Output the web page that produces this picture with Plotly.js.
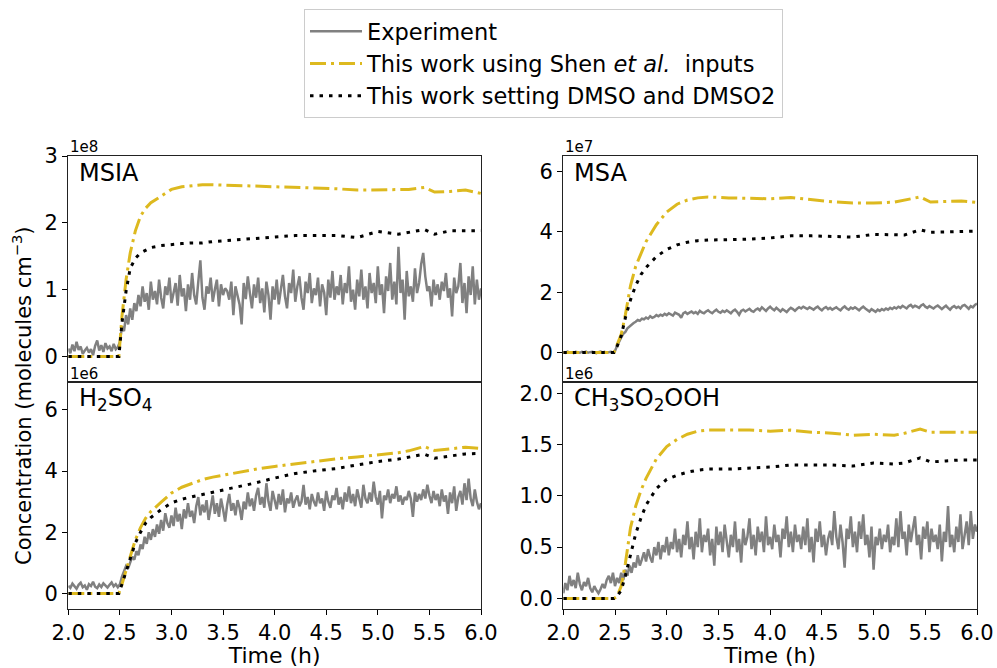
<!DOCTYPE html>
<html>
<head>
<meta charset="utf-8">
<script src="https://cdn.plot.ly/plotly-3.0.1.min.js"></script>
<style>html,body{margin:0;padding:0;background:#fff;}#chart{width:997px;height:668px;}</style>
</head>
<body>
<div id="chart"></div>
<script>
// ---------------- DATA ----------------
// Experiment series sampled every 0.02 h from 2.00 h to 6.00 h (201 values)
const expStart = 2.0;
const expStep = 0.02;

// MSIA (x1e8 molecules cm^-3)
const msiaExp = [
 0.12,0.05,0.18,0.08,0.22,0.10,0.15,0.04,0.09,0.13,0.06,0.11,0.02,0.16,0.24,0.09,0.17,0.07,0.20,0.12,0.15,0.08,0.19,0.11,0.14,
 0.22,0.45,0.38,0.62,0.48,0.72,0.55,0.80,0.68,0.92,0.75,1.05,0.82,0.95,0.70,1.12,0.85,0.98,0.78,1.15,0.88,0.72,1.05,0.92,1.18,
 0.80,0.95,1.10,0.76,1.22,0.90,1.02,0.68,1.08,0.85,
 1.25,0.92,0.78,1.12,1.44,0.88,0.70,1.05,0.94,1.18,
 0.82,1.00,1.15,0.75,1.08,0.92,1.02,0.98,0.85,1.12,
 0.62,1.05,0.90,0.78,0.48,1.10,0.86,1.20,0.95,0.72,
 1.08,0.88,1.18,0.80,1.02,0.66,1.12,0.92,0.55,1.05,
 0.85,1.15,0.78,1.00,1.22,0.90,0.72,1.10,0.95,1.30,
 0.82,1.05,1.20,0.88,0.70,1.12,0.95,1.25,0.80,1.02,
 0.92,1.18,0.75,1.08,0.96,0.62,1.15,0.88,1.28,0.85,
 1.05,0.92,1.22,0.78,1.10,0.95,1.35,0.82,1.00,0.70,
 1.15,0.90,1.30,0.85,1.05,0.72,1.25,0.95,1.10,0.80,
 1.35,0.92,1.08,0.65,1.20,0.98,1.40,0.85,1.12,0.78,
 1.64,0.95,1.15,0.55,1.28,0.90,1.05,0.82,1.32,0.95,
 1.10,1.38,1.55,1.20,0.98,1.05,0.75,1.15,0.92,1.08,
 0.85,1.12,0.98,1.25,0.88,1.02,0.60,1.18,0.95,1.05,
 1.40,0.80,1.10,0.65,1.20,0.92,1.35,0.78,1.15,0.85,
 1.02
];

// MSA (x1e7 molecules cm^-3)
const msaExp = [
 0.02,-0.01,0.03,0.00,0.01,-0.02,0.02,0.01,-0.01,0.02,0.00,0.03,-0.01,0.01,0.02,0.00,-0.02,0.01,0.03,0.00,0.02,-0.01,0.01,0.02,0.00,
 0.05,0.22,0.38,0.50,0.62,0.68,0.80,0.86,0.94,0.98,1.02,1.08,1.05,1.12,1.10,1.16,1.12,1.20,1.15,1.18,1.24,1.20,1.25,1.22,1.28,
 1.24,1.30,1.26,1.22,1.32,1.28,1.25,1.15,1.30,1.34,
 1.28,1.32,1.36,1.30,1.34,1.28,1.38,1.33,1.30,1.36,
 1.40,1.34,1.30,1.37,1.42,1.35,1.32,1.38,1.34,1.40,
 1.36,1.30,1.38,1.42,1.35,1.25,1.38,1.42,1.36,1.40,
 1.45,1.38,1.35,1.42,1.46,1.40,1.50,1.44,1.38,1.46,
 1.52,1.45,1.40,1.48,1.42,1.36,1.44,1.40,1.34,1.42,
 1.48,1.44,1.38,1.45,1.50,1.46,1.52,1.48,1.44,1.50,
 1.46,1.42,1.48,1.52,1.45,1.40,1.47,1.51,1.44,1.48,
 1.42,1.46,1.50,1.44,1.40,1.48,1.53,1.46,1.42,1.49,
 1.45,1.50,1.44,1.40,1.47,1.52,1.46,1.42,1.36,1.44,
 1.40,1.35,1.42,1.38,1.44,1.40,1.46,1.42,1.48,1.44,
 1.50,1.46,1.52,1.48,1.55,1.50,1.46,1.54,1.58,1.50,
 1.55,1.52,1.48,1.56,1.60,1.52,1.48,1.54,1.50,1.46,
 1.52,1.56,1.50,1.44,1.50,1.55,1.48,1.42,1.50,1.54,
 1.48,1.52,1.46,1.55,1.58,1.50,1.45,1.54,1.50,1.58,
 1.62
];

// H2SO4 (x1e6 molecules cm^-3)
const h2so4Exp = [
 0.25,0.18,0.32,0.22,0.15,0.28,0.35,0.20,0.26,0.12,0.30,0.24,0.38,0.22,0.17,0.29,0.21,0.33,0.25,0.19,0.28,0.36,0.23,0.30,0.20,
 0.30,0.55,0.72,0.90,0.82,1.05,1.20,1.10,1.38,1.25,1.60,1.45,1.85,1.62,2.00,1.75,2.10,1.85,2.25,1.95,2.40,2.05,2.62,2.30,2.15,
 2.55,2.20,2.80,2.35,2.60,2.10,2.75,2.45,2.95,2.50,
 2.70,2.30,2.85,3.15,2.55,2.90,2.65,3.05,2.40,2.80,
 3.20,2.60,2.95,2.50,3.10,2.75,2.35,2.90,3.25,2.70,
 2.95,2.55,3.05,2.80,2.40,3.00,2.75,3.30,2.85,3.10,
 2.70,3.20,3.45,2.90,3.15,2.80,3.60,3.00,2.70,3.35,
 3.05,2.75,3.25,2.90,3.40,2.65,3.10,2.95,3.30,2.80,
 3.05,3.20,2.85,3.00,3.55,2.90,3.15,2.75,3.25,3.00,
 2.85,3.30,2.95,3.10,2.70,3.35,3.00,2.80,3.20,3.05,
 3.45,2.90,3.15,2.75,3.30,3.00,3.50,2.95,3.25,2.85,
 3.40,3.05,2.80,3.55,3.10,2.95,3.30,3.00,3.65,3.15,
 2.90,3.35,2.45,3.20,3.05,3.40,2.95,3.25,3.10,3.50,
 3.00,3.20,2.90,3.15,3.05,3.35,3.10,2.50,3.30,3.00,
 3.25,3.05,3.40,3.10,3.55,3.20,2.95,3.35,3.05,3.25,
 2.85,3.40,3.00,3.20,2.60,3.30,2.95,3.50,2.70,3.15,
 3.35,2.90,3.60,3.05,3.75,3.10,2.85,3.40,3.00,2.75,
 2.95
];

// CH3SO2OOH (x1e6 molecules cm^-3)
const ch3so2oohExp = [
 0.05,0.15,0.08,0.22,0.12,0.18,0.10,0.25,0.14,0.08,0.16,0.12,0.20,0.10,0.06,0.12,0.08,0.05,0.09,0.14,0.10,0.18,0.22,0.15,0.25,
 0.12,0.20,0.15,0.25,0.18,0.28,0.22,0.32,0.25,0.35,0.30,0.42,0.32,0.38,0.45,0.36,0.48,0.40,0.35,0.50,0.42,0.55,0.38,0.52,0.45,
 0.60,0.42,0.55,0.48,0.68,0.45,0.58,0.40,0.62,0.52,
 0.75,0.48,0.60,0.38,0.65,0.50,0.78,0.45,0.62,0.55,
 0.68,0.42,0.58,0.32,0.70,0.52,0.65,0.45,0.72,0.55,
 0.40,0.62,0.50,0.75,0.45,0.58,0.35,0.68,0.52,0.60,
 0.78,0.48,0.62,0.42,0.70,0.55,0.65,0.45,0.80,0.52,
 0.60,0.48,0.72,0.55,0.62,0.40,0.68,0.58,0.80,0.50,
 0.65,0.45,0.72,0.55,0.62,0.48,0.70,0.52,0.78,0.45,
 0.60,0.35,0.68,0.55,0.75,0.50,0.62,0.42,0.58,0.66,
 0.52,0.85,0.60,0.48,0.72,0.55,0.30,0.68,0.58,0.80,
 0.50,0.65,0.45,0.75,0.58,0.82,0.52,0.62,0.40,0.70,
 0.28,0.60,0.52,0.68,0.48,0.62,0.55,0.72,0.45,0.60,
 0.52,0.78,0.50,0.85,0.58,0.65,0.42,0.72,0.55,0.68,
 0.80,0.52,0.62,0.38,0.70,0.58,0.75,0.45,0.68,0.55,
 0.62,0.48,0.72,0.36,0.65,0.55,0.90,0.50,0.62,0.45,
 0.70,0.55,0.82,0.48,0.60,0.75,0.52,0.85,0.58,0.72,
 0.65
];

// Model time points (h)
const tModel = [2.0,2.49,2.52,2.56,2.6,2.65,2.7,2.75,2.8,2.9,3.0,3.1,3.2,3.3,3.4,3.6,3.8,4.0,4.2,4.4,4.6,4.8,5.0,5.2,5.3,5.45,5.55,5.7,5.85,6.0];

// "This work using Shen et al. inputs"
const msiaShen  = [0,0,0.60,1.15,1.55,1.88,2.10,2.22,2.30,2.40,2.50,2.54,2.56,2.57,2.57,2.56,2.56,2.55,2.53,2.52,2.51,2.49,2.49,2.49,2.50,2.53,2.46,2.47,2.49,2.44];
const msaShen   = [0,0,0.25,0.60,1.25,2.22,2.86,3.30,3.68,4.24,4.66,4.92,5.06,5.13,5.16,5.13,5.11,5.10,5.14,5.06,5.00,4.96,4.96,4.99,5.06,5.16,4.99,5.01,5.03,4.98];
const h2so4Shen = [0,0,0.30,0.72,1.20,1.75,2.15,2.46,2.68,2.98,3.28,3.47,3.60,3.72,3.80,3.93,4.05,4.15,4.24,4.32,4.40,4.46,4.53,4.60,4.66,4.80,4.67,4.72,4.78,4.74];
const ch3Shen   = [0,0,0.02,0.12,0.34,0.69,0.90,1.05,1.17,1.36,1.48,1.55,1.60,1.63,1.64,1.64,1.64,1.63,1.64,1.62,1.61,1.59,1.60,1.59,1.61,1.65,1.62,1.62,1.62,1.62];

// "This work setting DMSO and DMSO2"
const msiaSet   = [0,0,0.50,0.98,1.32,1.47,1.55,1.59,1.63,1.66,1.68,1.69,1.70,1.70,1.72,1.74,1.76,1.79,1.81,1.81,1.81,1.78,1.87,1.83,1.86,1.90,1.83,1.88,1.88,1.88];
const msaSet    = [0,0,0.20,0.55,1.15,1.75,2.22,2.58,2.82,3.18,3.42,3.57,3.66,3.71,3.73,3.74,3.76,3.80,3.87,3.87,3.86,3.83,3.92,3.90,3.90,4.07,3.99,4.00,4.02,4.03];
const h2so4Set  = [0,0,0.30,0.72,1.15,1.65,2.00,2.30,2.48,2.74,2.96,3.08,3.16,3.23,3.30,3.44,3.60,3.77,3.92,4.01,4.08,4.20,4.31,4.39,4.45,4.55,4.42,4.50,4.56,4.58];
const ch3Set    = [0,0,0.02,0.08,0.22,0.43,0.63,0.78,0.91,1.07,1.16,1.20,1.23,1.25,1.26,1.26,1.27,1.28,1.30,1.30,1.30,1.29,1.32,1.31,1.32,1.37,1.33,1.34,1.35,1.35];

const seriesNames = ["Experiment", "This work using Shen <i>et al.</i>  inputs", "This work setting DMSO and DMSO2"];
const panelTitles = ["MSIA", "MSA", "H<sub>2</sub>SO<sub>4</sub>", "CH<sub>3</sub>SO<sub>2</sub>OOH"];
const scaleLabels = ["1e8", "1e7", "1e6", "1e6"];
const xTickVals = [2.0,2.5,3.0,3.5,4.0,4.5,5.0,5.5,6.0];
const yTickVals = [[0,1,2,3],[0,2,4,6],[0,2,4,6],[0,0.5,1.0,1.5,2.0]];
const yRanges = [[-0.39,3.0],[-1.0,6.52],[-0.5,6.89],[-0.1,2.103]];

// ---------------- STYLE ----------------
const FONT = "DejaVu Sans, Liberation Sans, sans-serif";
const cExp = "#808080", cShen = "#DDB91F", cSet = "#000000";

const expData = [msiaExp, msaExp, h2so4Exp, ch3so2oohExp];
const shenData = [msiaShen, msaShen, h2so4Shen, ch3Shen];
const setData = [msiaSet, msaSet, h2so4Set, ch3Set];

const traces = [];
for (let p = 0; p < 4; p++) {
  const xa = p === 0 ? "x" : "x" + (p + 1);
  const ya = p === 0 ? "y" : "y" + (p + 1);
  traces.push({type: "scatter", mode: "lines", x0: expStart, dx: expStep, y: expData[p],
    xaxis: xa, yaxis: ya, name: seriesNames[0], showlegend: p === 0, legendrank: 1,
    line: {color: cExp, width: 2.5}});
  traces.push({type: "scatter", mode: "lines", x: tModel, y: shenData[p],
    xaxis: xa, yaxis: ya, name: seriesNames[1], showlegend: p === 0, legendrank: 2,
    line: {color: cShen, width: 3, dash: "16px,5px,3px,5px"}});
  traces.push({type: "scatter", mode: "lines", x: tModel, y: setData[p],
    xaxis: xa, yaxis: ya, name: seriesNames[2], showlegend: p === 0, legendrank: 3,
    line: {color: cSet, width: 3, dash: "3.5px,6px"}});
}

const W = 997, H = 668;
const xDomL = [68.3 / W, 481 / W], xDomR = [563.3 / W, 977 / W];
const yMid = 1 - 382.6 / H;
const yDomT = [yMid, 1 - 156 / H], yDomB = [1 - 608.7 / H, yMid];
const doms = [[xDomL, yDomT], [xDomR, yDomT], [xDomL, yDomB], [xDomR, yDomB]];

const layout = {
  width: W, height: H,
  margin: {l: 0, r: 0, t: 0, b: 0},
  paper_bgcolor: "#fff", plot_bgcolor: "#fff",
  font: {family: FONT, size: 21, color: "#000"},
  showlegend: true,
  legend: {x: 304 / W, y: 1 - 9 / H, xanchor: "left", yanchor: "top",
    bgcolor: "#fff", bordercolor: "#cccccc", borderwidth: 1, itemwidth: 52,
    font: {family: FONT, size: 22.5, color: "#000"}, traceorder: "normal"},
  annotations: []
};

for (let p = 0; p < 4; p++) {
  const sfx = p === 0 ? "" : String(p + 1);
  const bottom = p >= 2;
  layout["xaxis" + sfx] = {
    domain: doms[p][0], anchor: "y" + sfx, range: [2.0, 6.0],
    side: bottom ? "bottom" : "top",
    tickvals: xTickVals, tickformat: ".1f",
    showticklabels: bottom, ticks: bottom ? "outside" : "", ticklen: 5, tickwidth: 1, tickcolor: "#000",
    showline: true, mirror: bottom, linecolor: "#222", linewidth: 1.2,
    showgrid: false, zeroline: false,
    tickfont: {family: FONT, size: 21, color: "#000"},
    title: bottom ? {text: "Time (h)", font: {family: FONT, size: 22, color: "#000"}, standoff: 4} : {text: ""}
  };
  layout["yaxis" + sfx] = {
    domain: doms[p][1], anchor: "x" + sfx, range: yRanges[p],
    tickvals: yTickVals[p], tickformat: p === 3 ? ".1f" : "",
    ticks: "outside", ticklen: 5, tickwidth: 1, tickcolor: "#000",
    showline: true, mirror: true, linecolor: "#222", linewidth: 1.2,
    showgrid: false, zeroline: false,
    tickfont: {family: FONT, size: 21, color: "#000"}
  };
  layout.annotations.push({
    xref: "x" + sfx + " domain", yref: "y" + sfx + " domain", x: 0.02, y: 0.925,
    xanchor: "left", yanchor: "middle", showarrow: false, text: panelTitles[p],
    font: {family: FONT, size: 24, color: "#000"}
  });
  layout.annotations.push({
    xref: "x" + sfx + " domain", yref: "y" + sfx + " domain", x: 0, y: 1,
    xanchor: "left", yanchor: "bottom", showarrow: false, text: scaleLabels[p], yshift: -2,
    font: {family: FONT, size: 15, color: "#000"}
  });
}

layout.annotations.push({
  xref: "paper", yref: "paper", x: 22 / W, y: 1 - 396 / H, xanchor: "center", yanchor: "middle",
  showarrow: false, textangle: -90,
  text: "Concentration (molecules cm<sup>\u22123</sup>)",
  font: {family: FONT, size: 21, color: "#000"}
});

Plotly.newPlot("chart", traces, layout, {staticPlot: true, displayModeBar: false});
</script>
</body>
</html>
